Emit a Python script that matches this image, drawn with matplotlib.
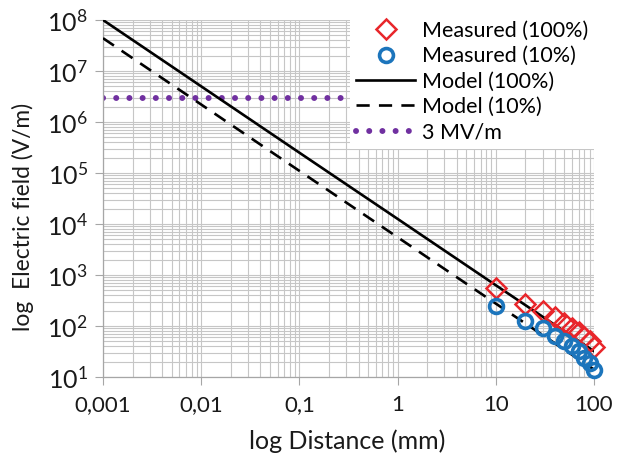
import numpy as np
import matplotlib as mpl
import matplotlib.pyplot as plt
from matplotlib.ticker import LogLocator, FixedLocator, FixedFormatter, NullFormatter

mpl.rcParams['font.family'] = 'Lato'
mpl.rcParams['mathtext.fontset'] = 'custom'
mpl.rcParams['mathtext.rm'] = 'Lato'

# measured field vs distance
distance_mm = [10, 20, 30, 40, 50, 60, 70, 80, 90, 100]
measured_100 = [560, 270, 200, 150, 115, 90, 75, 62, 50, 38]
measured_10 = [250, 125, 90, 65, 50, 40, 32, 24, 19, 14]

# model curves
model_dist = [0.001, 0.01, 0.1, 1, 10, 100]
model_100 = [1.0e8, 5.0e6, 2.5e5, 1.26e4, 630, 32]
model_10 = [4.4e7, 2.2e6, 1.1e5, 5.5e3, 275, 14]

# breakdown field of air
breakdown = 3e6

xticks = [0.001, 0.01, 0.1, 1, 10, 100]
xlabels = ['0,001', '0,01', '0,1', '1', '10', '100']

fig = plt.figure(figsize=(6.19, 4.57), dpi=100)
ax = fig.add_axes([103/619, 1-377/457, (594-103)/619, (377-20)/457])

ax.plot(distance_mm, measured_100, linestyle='none', marker='D', markersize=10,
        markerfacecolor='none', markeredgecolor='#e8262b', markeredgewidth=1.8,
        clip_on=False, zorder=4, label='Measured (100%)')
ax.plot(distance_mm, measured_10, linestyle='none', marker='o', markersize=10,
        markerfacecolor='none', markeredgecolor='#1c75bc', markeredgewidth=2.6,
        clip_on=False, zorder=4, label='Measured (10%)')
ax.plot(model_dist, model_100, color='black', lw=1.9, zorder=3, label='Model (100%)')
ax.plot(model_dist, model_10, color='black', lw=1.9, dashes=(5, 3.5), zorder=3,
        label='Model (10%)')
ax.plot([model_dist[0], model_dist[-1]], [breakdown, breakdown], color='#7030a0',
        lw=4.3, dashes=(0.01, 2.2), dash_capstyle='round', zorder=2, label='3 MV/m')

ax.set_xscale('log')
ax.set_yscale('log')
ax.set_xlim(0.001, 100)
ax.set_ylim(10, 1e8)

ax.xaxis.set_major_locator(FixedLocator(xticks))
ax.xaxis.set_major_formatter(FixedFormatter(xlabels))
ax.xaxis.set_minor_locator(LogLocator(base=10, subs=np.arange(2, 10)))
ax.xaxis.set_minor_formatter(NullFormatter())
ax.yaxis.set_major_locator(LogLocator(base=10, numticks=10))
ax.yaxis.set_minor_locator(LogLocator(base=10, subs=np.arange(2, 10), numticks=20))
ax.yaxis.set_minor_formatter(NullFormatter())

ax.grid(True, which='both', color='#c6c6c6', lw=0.8)
ax.set_axisbelow(True)
for s in ['top', 'right']:
    ax.spines[s].set_visible(False)
for s in ['left', 'bottom']:
    ax.spines[s].set_color('#a6a6a6')
    ax.spines[s].set_linewidth(0.9)
ax.tick_params(which='major', direction='out', length=6, color='#a6a6a6',
               labelsize=16, labelcolor='#1a1a1a')
ax.tick_params(axis='y', labelsize=18, pad=5)
ax.tick_params(axis='x', pad=7)
ax.tick_params(which='minor', length=0)

ax.set_xlabel('log Distance (mm)', fontsize=18, color='#1a1a1a', va='top')
ax.xaxis.set_label_coords(0.498, -0.148)
ax.set_ylabel('log  Electric field (V/m)', fontsize=16.4, color='#1a1a1a')
ax.yaxis.set_label_coords(-0.14, 0.448)

# white legend box over the upper right of the grid
leg = ax.legend(loc='upper left', bbox_to_anchor=(350/619, 1-19/457, 265/619, 0.01),
                bbox_transform=fig.transFigure, mode='expand', fontsize=15.5,
                frameon=True, facecolor='white', edgecolor='none', framealpha=1,
                fancybox=False, handlelength=2.7, handletextpad=0.36,
                labelspacing=0.25, borderaxespad=0, borderpad=0.3)
leg.set_zorder(10)

fig.savefig('out.png', dpi=100)
